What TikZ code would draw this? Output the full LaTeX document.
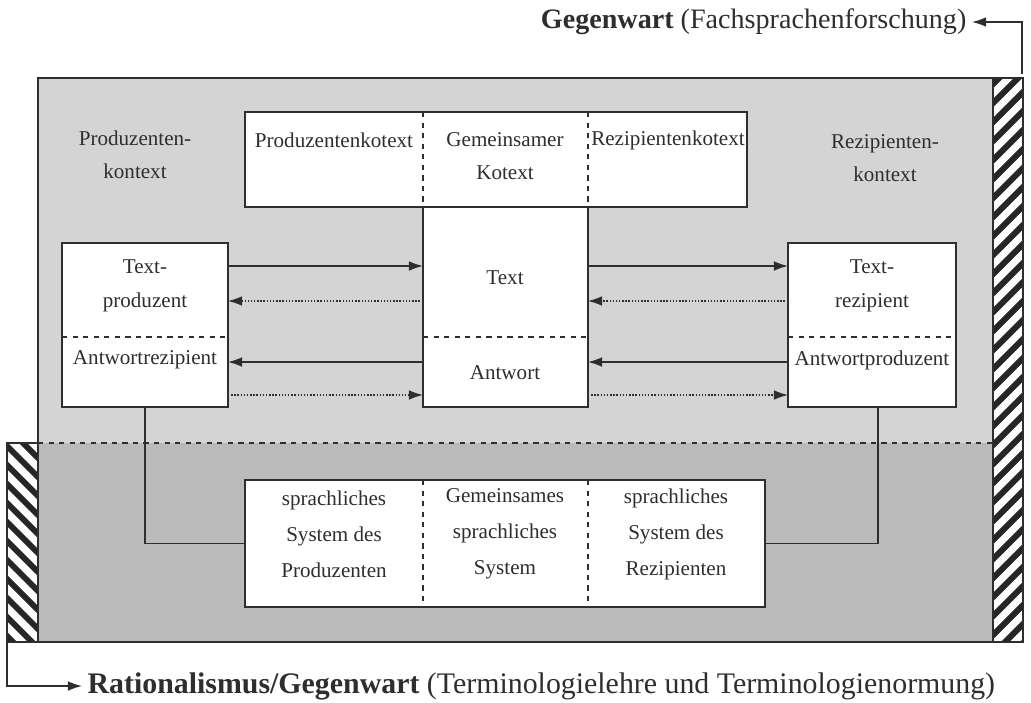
\documentclass[tikz,border=0pt]{standalone}
\usepackage{fontspec}
\setmainfont{Liberation Serif}
\usetikzlibrary{arrows.meta}

\definecolor{upperbg}{gray}{0.83}
\definecolor{lowerbg}{gray}{0.73}
\definecolor{ink}{gray}{0.18}

\begin{document}
\begin{tikzpicture}[x=0.02cm,y=-0.02cm,
    every node/.style={font=\fontsize{12}{19}\selectfont,text=ink},
    box/.style={draw=ink,fill=white,line width=0.8pt,inner sep=0pt,outer sep=0pt},
    label text/.style={align=center,inner sep=1pt},
    system text/.style={align=center,inner sep=1pt,font=\fontsize{12}{20.5}\selectfont},
    title text/.style={font=\fontsize{16}{20}\selectfont,inner sep=3pt},
    frame/.style={draw=ink,line width=0.8pt},
    divider/.style={draw=ink,dashed,line width=0.6pt},
    solid arrow/.style={draw=ink,line width=0.8pt,-{Latex[length=8pt,width=5.5pt]}},
    dotted arrow/.style={draw=ink,line width=0.8pt,densely dotted,-{Latex[length=8pt,width=5.5pt]}},
    link/.style={draw=ink,line width=0.8pt},
    stripe/.style={draw=black!85,line width=0.12cm}
  ]
  \useasboundingbox (0,0) rectangle (1031,703);

  % shaded ground and hatched bars
  \fill[upperbg] (38,78) rectangle (993,443);
  \fill[lowerbg] (38,443) rectangle (993,642);
  \begin{scope}
    \clip (993,78) rectangle (1023,642);
    \foreach \k in {0,...,36}
      \draw[stripe] (980,78+\k*19) -- ++(60,-60);
  \end{scope}
  \begin{scope}
    \clip (7,443) rectangle (38,642);
    \foreach \k in {0,...,16}
      \draw[stripe] (-20,400+\k*19) -- ++(70,70);
  \end{scope}
  \draw[frame] (38,78) rectangle (1023,642);
  \draw[frame] (993,78) -- (993,642);
  \draw[frame] (7,443) rectangle (38,642);
  \draw[divider] (38,443) -- (993,443);

  % context labels
  \node[label text] (pctx) at (135,155) {Produzenten-\\kontext};
  \node[label text] (rctx) at (885,158) {Rezipienten-\\kontext};

  % boxes
  \node[box,minimum width=10.04cm,minimum height=1.9cm] (kbox) at (496,159.5) {};
  \node[box,minimum width=3.3cm,minimum height=4cm] (tbox) at (505.5,307) {};
  \node[box,minimum width=3.32cm,minimum height=3.28cm] (pbox) at (145,325) {};
  \node[box,minimum width=3.36cm,minimum height=3.28cm] (rbox) at (872,325) {};
  \node[box,minimum width=10.4cm,minimum height=2.54cm] (sbox) at (505,543.5) {};

  % dashed dividers
  \draw[divider] (kbox.north -| tbox.west) -- (tbox.north west);
  \draw[divider] (kbox.north -| tbox.east) -- (tbox.north east);
  \draw[divider] (sbox.north -| tbox.west) -- (sbox.south -| tbox.west);
  \draw[divider] (sbox.north -| tbox.east) -- (sbox.south -| tbox.east);
  \coordinate (split) at (0,337);
  \foreach \b in {pbox,tbox,rbox}
    \draw[divider] (\b.west |- split) -- (\b.east |- split);

  % box texts
  \node (kprod) at (334,140) {Produzentenkotext};
  \node[label text] (kcom) at (505,156) {Gemeinsamer\\Kotext};
  \node (krez) at (668,140) {Rezipientenkotext};
  \node (ttext) at (505,278) {Text};
  \node (tans) at (505,373) {Antwort};
  \node[label text] (ptext) at (145,286) {Text-\\produzent};
  \node (pans) at (145,360) {Antwortrezipient};
  \node[label text] (rtext) at (872,286) {Text-\\rezipient};
  \node (rans) at (872,360) {Antwortproduzent};
  \node[system text] (sprod) at (334,534) {sprachliches\\System des\\Produzenten};
  \node[system text] (scom) at (505,534) {Gemeinsames\\sprachliches\\System};
  \node[system text] (srez) at (676,534) {sprachliches\\System des\\Rezipienten};

  % arrows between the boxes
  \coordinate (row1) at (0,266);
  \coordinate (row2) at (0,301);
  \coordinate (row3) at (0,362);
  \coordinate (row4) at (0,395);
  \draw[solid arrow] (pbox.east |- row1) -- (tbox.west |- row1);
  \draw[dotted arrow] (tbox.west |- row2) -- (pbox.east |- row2);
  \draw[solid arrow] (tbox.west |- row3) -- (pbox.east |- row3);
  \draw[dotted arrow] (pbox.east |- row4) -- (tbox.west |- row4);
  \draw[solid arrow] (tbox.east |- row1) -- (rbox.west |- row1);
  \draw[dotted arrow] (rbox.west |- row2) -- (tbox.east |- row2);
  \draw[solid arrow] (rbox.west |- row3) -- (tbox.east |- row3);
  \draw[dotted arrow] (tbox.east |- row4) -- (rbox.west |- row4);

  % links to the language systems
  \coordinate (rdrop) at (878,0);
  \draw[link] (pbox.south) |- (sbox.west);
  \draw[link] (rbox.south -| rdrop) |- (sbox.east);

  % titles
  \node[title text,anchor=east] (now) at (972,22) {\textbf{Gegenwart} (Fachsprachenforschung)};
  \node[title text,anchor=west,font=\fontsize{17}{20}\selectfont] (ratio) at (82,686) {\textbf{Rationalismus/Gegenwart} (Terminologielehre und Terminologienormung)};
  \coordinate (rtop) at (1022,74);
  \coordinate (lbot) at (7,642);
  \draw[solid arrow] (rtop) |- (now.east);
  \draw[solid arrow] (lbot) |- (ratio.west);
\end{tikzpicture}
\end{document}
